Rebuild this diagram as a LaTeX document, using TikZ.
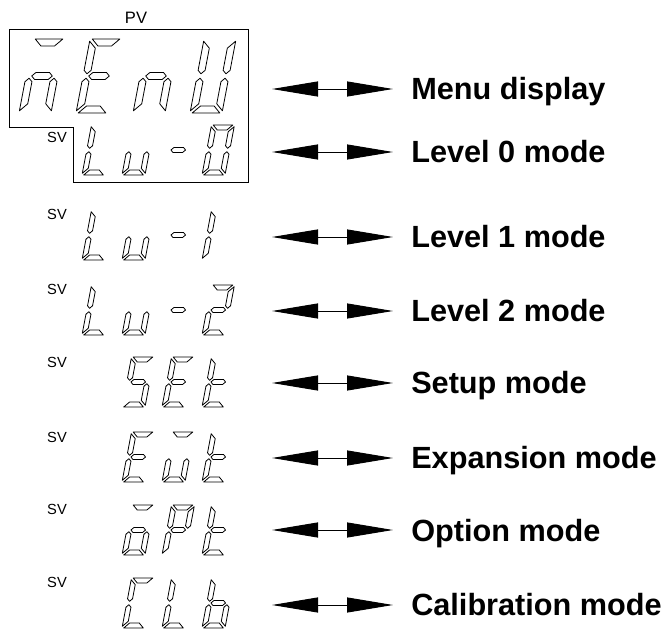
\documentclass[tikz,border=0pt]{standalone}
\usepackage{fontspec}
\setmainfont{Liberation Sans}
\usetikzlibrary{arrows.meta}

% segment outlines of one LCD digit, drawn upright; the digit scope slants them
\newcommand{\lcdsega}{(\chG,\chH) -- (\chW-\chG,\chH) -- (\chW-\chG-\chT,\chH-\chT) -- (\chG+\chT,\chH-\chT) -- cycle}
\newcommand{\lcdsegb}{(\chW,\chH-\chG) -- (\chW-\chT,\chH-\chG-\chT) -- (\chW-\chT,\chM+\chG+\chT/2) -- (\chW-\chT/2,\chM+\chG) -- (\chW,\chM+\chG+\chT/2) -- cycle}
\newcommand{\lcdsegc}{(\chW,\chG) -- (\chW-\chT,\chG+\chT) -- (\chW-\chT,\chM-\chG-\chT/2) -- (\chW-\chT/2,\chM-\chG) -- (\chW,\chM-\chG-\chT/2) -- cycle}
\newcommand{\lcdsegd}{(\chG,0) -- (\chW-\chG,0) -- (\chW-\chG-\chT,\chT) -- (\chG+\chT,\chT) -- cycle}
\newcommand{\lcdsege}{(0,\chG) -- (\chT,\chG+\chT) -- (\chT,\chM-\chG-\chT/2) -- (\chT/2,\chM-\chG) -- (0,\chM-\chG-\chT/2) -- cycle}
\newcommand{\lcdsegf}{(0,\chH-\chG) -- (\chT,\chH-\chG-\chT) -- (\chT,\chM+\chG+\chT/2) -- (\chT/2,\chM+\chG) -- (0,\chM+\chG+\chT/2) -- cycle}
\newcommand{\lcdsegg}{(\chG+\chT/2,\chM) -- (\chG+\chT,\chM+\chT/2) -- (\chW-\chG-\chT,\chM+\chT/2) -- (\chW-\chG-\chT/2,\chM) -- (\chW-\chG-\chT,\chM-\chT/2) -- (\chG+\chT,\chM-\chT/2) -- cycle}
\newcommand{\lcddraw}[1]{\draw[lcdseg] #1;}
% #1,#2 origin, #3 width, #4 height, #5 thickness, #6 gap, #7 lit segments
\newcommand{\lcdchar}[7]{%
  \begin{scope}[shift={(#1,#2)}, xslant=0.19]
    \def\chW{#3}\def\chH{#4}\def\chT{#5}\def\chG{#6}\pgfmathsetmacro\chM{#4/2}
    \foreach \s in {#7} {\expandafter\lcddraw\csname lcdseg\s\endcsname}
  \end{scope}}
\newcommand{\pvchar}[3]{\lcdchar{#1}{#2}{32}{74}{7}{2.2}{#3}}
\newcommand{\svchar}[3]{\lcdchar{#1}{#2}{23}{50}{5}{1.7}{#3}}

\tikzset{lcdseg/.style = {draw, line width=0.6pt, line join=round},
         svlabel/.style = {inner sep=0pt, font=\fontsize{11}{13}\selectfont},
         modelabel/.style = {anchor=west, inner sep=0pt, text height=16.5pt, text depth=0pt,
                             font=\bfseries\fontsize{23}{27}\selectfont},
         modearrow/.style = {{Triangle[length=34.5pt, width=11.25pt]}-{Triangle[length=34.5pt, width=11.25pt]},
                             line width=0.7pt, shorten >=13.5pt}}

\begin{document}
\begin{tikzpicture}[x=0.75pt, y=0.75pt]
  \useasboundingbox (0,0) rectangle (665,633);

  % PV window with the first SV line
  \draw[line width=0.6pt] (9,604) -- (248,604) -- (248,451) -- (73,451) -- (73,506) -- (9,506) -- cycle;
  \node[svlabel, font=\fontsize{12.4}{14}\selectfont] (pv) at (136,615) {PV};
  \node[svlabel] (sv0) at (57,496) {SV};
  \foreach \y [count=\i] in {419,344,271,196,124,51}
    \node[svlabel] (sv\i) at (57,\y) {SV};

  % menu
  \pvchar{19}{520}{a,g,e,c}
  \pvchar{76}{520}{a,f,g,e,d}
  \pvchar{133}{520}{g,e,c}
  \pvchar{190}{520}{b,c,d,e,f}

  % lv-0, lv-1, lv-2
  \foreach \y in {458,373,298} {
    \svchar{82}{\y}{f,e,d}
    \svchar{122}{\y}{e,d,c}
    \svchar{162}{\y}{g}
  }
  \svchar{202}{458}{a,b,c,d,e,f}
  \svchar{202}{373}{e,f}
  \svchar{202}{298}{a,b,g,e,d}

  % set
  \svchar{122}{226}{a,f,g,c,d}
  \svchar{162}{226}{a,f,g,e,d}
  \svchar{202}{226}{f,e,g,d}
  % ext
  \svchar{122}{151}{a,f,g,e,d}
  \svchar{162}{151}{a,e,d,c}
  \svchar{202}{151}{f,e,g,d}
  % opt
  \svchar{122}{78}{a,g,e,c,d}
  \svchar{162}{78}{a,b,f,g,e}
  \svchar{202}{78}{f,e,g,d}
  % clb
  \svchar{122}{5}{a,f,e,d}
  \svchar{162}{5}{f,e,d}
  \svchar{202}{5}{f,e,g,c,d}

  % mode names
  \foreach \y/\name/\txt in {544/menu/Menu display, 481/lvl0/Level 0 mode, 396/lvl1/Level 1 mode,
                             322/lvl2/Level 2 mode, 250/setup/Setup mode, 175/expn/Expansion mode,
                             103/option/Option mode, 28/calib/Calibration mode} {
    \node[modelabel] (\name) at (411,\y) {\txt};
    \coordinate (\name-tip) at (272,\y);
    \draw[modearrow] (\name-tip) -- (\name);
  }
\end{tikzpicture}
\end{document}
